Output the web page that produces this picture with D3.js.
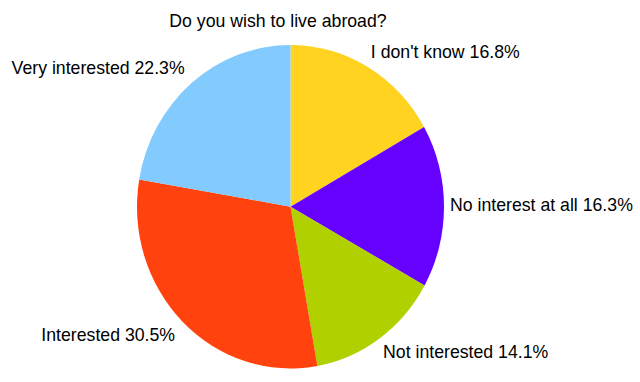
<!DOCTYPE html>
<html>
<head>
<meta charset="utf-8">
<script src="https://cdn.jsdelivr.net/npm/d3@7"></script>
<style>
  body { margin: 0; background: #fff; }
  text { font-family: "Liberation Sans", Arial, sans-serif; fill: #000; }
</style>
</head>
<body>
<svg id="chart" width="640" height="382"></svg>
<script>
// data, clockwise from 12 o'clock
var categories = ["I don't know", "No interest at all", "Not interested", "Interested", "Very interested"];
var percents = [16.8, 16.3, 14.1, 30.5, 22.3];
var colors = ["#ffd320", "#6600ff", "#b0d000", "#ff420e", "#83caff"];
var title = "Do you wish to live abroad?";

var svg = d3.select("svg#chart");
var cx = 290.5, cy = 206.7;
var rx = 153.5, ry = 161.7;   // picture is a little squashed sideways

var pie = d3.pie().sort(null).value(function(d) { return d; });
var arcs = pie(percents);
var arc = d3.arc().innerRadius(0).outerRadius(ry);

var g = svg.append("g")
    .attr("transform", "translate(" + cx + "," + cy + ") scale(" + (rx / ry) + ",1)");

g.selectAll("path")
    .data(arcs)
    .enter().append("path")
    .attr("d", arc)
    .attr("fill", function(d, i) { return colors[i]; });

svg.append("text")
    .attr("x", 278)
    .attr("y", 27)
    .style("text-anchor", "middle")
    .style("font-size", "17.7px")
    .text(title);

// labels sit just outside the rim at each slice's mid angle
svg.selectAll("text.lbl")
    .data(arcs)
    .enter().append("text")
    .attr("class", "lbl")
    .style("font-size", "17.7px")
    .each(function(d, i) {
        var a = (d.startAngle + d.endAngle) / 2;
        var s = Math.sin(a), c = Math.cos(a);
        var px = cx + rx * s + 6 * s;
        var py = cy - ry * c - 6 * c;
        var anchor = s > 0.1 ? "start" : (s < -0.1 ? "end" : "middle");
        var by;
        if (c > 0.1) by = py - 4;
        else if (c < -0.1) by = py + 15;
        else by = py + 5;
        if (s < -0.1) px -= 3;
        d3.select(this)
            .attr("x", px)
            .attr("y", by)
            .style("text-anchor", anchor)
            .text(categories[i] + " " + d3.format(".1f")(percents[i]) + "%");
    });
</script>
</body>
</html>
